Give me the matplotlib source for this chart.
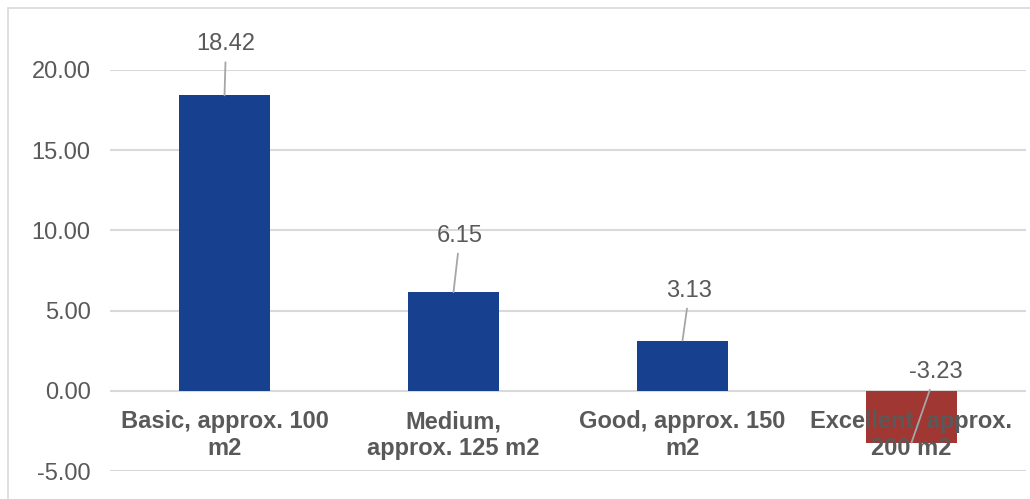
import matplotlib.pyplot as plt
from matplotlib.patches import Rectangle

categories = ["Basic, approx. 100\nm2", "Medium,\napprox. 125 m2",
              "Good, approx. 150\nm2", "Excellent, approx.\n200 m2"]
values = [18.42, 6.15, 3.13, -3.23]
# label offsets from the bar end, in pixels (dx, dy)
label_offsets = [(1.5, 51), (6.5, 56.5), (7, 50), (24.5, 70.5)]
yticks = [-5, 0, 5, 10, 15, 20]

BLUE = "#17408F"
RED = "#A03732"
TXT = "#595959"
GRID = "#D9D9D9"

W, H = 1030, 499
plt.rcParams["font.family"] = ["Liberation Sans", "DejaVu Sans"]
fig = plt.figure(figsize=(W / 100, H / 100), dpi=100)
ax = fig.add_axes([110 / W, (H - 471) / H, (1026 - 110) / W, 401 / H])

# outer chart border
fig.patches.append(Rectangle((8 / W, -0.1), 1.2, (H - 8) / H + 0.1,
                             transform=fig.transFigure, fill=False,
                             edgecolor=GRID, lw=1.2))

x = range(len(values))
colors = [BLUE if v >= 0 else RED for v in values]
ax.bar(x, values, width=0.40, color=colors, zorder=2)

ax.set_xlim(-0.5, len(values) - 0.5)
ax.set_ylim(-5, 20)
ax.set_yticks(yticks)
ax.set_yticklabels([f"{v:.2f}" for v in yticks], fontsize=17, color=TXT)
ax.tick_params(axis="y", length=0, pad=14)
ax.set_xticks([])
ax.grid(axis="y", color=GRID, lw=1.5, zorder=0)
for sp in ax.spines.values():
    sp.set_visible(False)

px = 0.72  # points per pixel at 100 dpi
for i, cat in enumerate(categories):
    ax.annotate(cat, xy=(i, 0), xytext=(0, -44 * px), textcoords="offset points",
                ha="center", va="center", fontsize=17, fontweight="bold",
                color=TXT, linespacing=1.2, zorder=3, annotation_clip=False)

for i, (v, (dx, dy)) in enumerate(zip(values, label_offsets)):
    ax.annotate(f"{v:.2f}", xy=(i, v), xytext=(dx * px, dy * px),
                textcoords="offset points", ha="center", va="center",
                fontsize=17, color=TXT, zorder=4, annotation_clip=False,
                arrowprops=dict(arrowstyle="-", color="#A6A6A6", lw=1.3,
                                shrinkA=3, shrinkB=0))

fig.savefig("out.png", dpi=100, facecolor="white")
